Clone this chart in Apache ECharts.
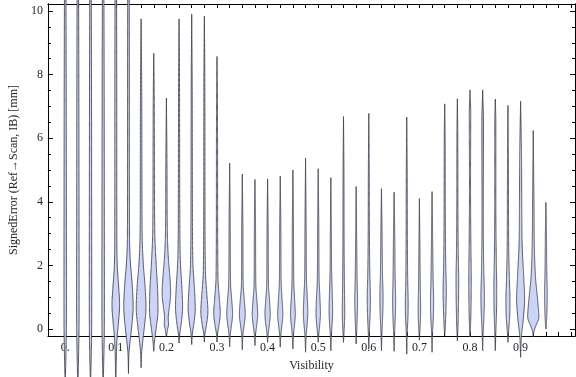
<!DOCTYPE html>
<html><head><meta charset="utf-8">
<script src="https://cdn.jsdelivr.net/npm/echarts@6/dist/echarts.min.js"></script>
<style>html,body{margin:0;padding:0;background:#fff}#c{width:576px;height:377px}</style>
</head><body><div id="c"></div>
<script>
// ---- data ----
const positions = [0,0.025,0.05,0.075,0.1,0.125,0.15,0.175,0.2,0.225,0.25,0.275,0.3,0.325,0.35,0.375,0.4,0.425,0.45,0.475,0.5,0.525,0.55,0.575,0.6,0.625,0.65,0.675,0.7,0.725,0.75,0.775,0.8,0.825,0.85,0.875,0.9,0.925,0.95];
const lows  = [-1.8,-1.8,-1.8,-1.8,-1.8,-1.4,-1.22,-0.7,-0.25,-0.44,-0.49,-0.41,-0.41,-0.56,-0.65,-0.52,-0.42,-0.57,-0.63,-0.73,-0.42,-0.68,-0.42,-0.47,-0.63,-0.68,-0.7,-0.79,-0.35,-0.73,-0.2,-0.37,-0.25,-0.68,-0.68,-0.42,-0.89,-0.25,0.0];
const highs = [16,16,16,16,16,16,9.75,8.67,7.26,9.75,9.9,9.84,8.57,5.22,4.87,4.7,4.72,4.81,5.0,5.37,5.04,4.76,6.68,4.48,6.78,4.41,4.3,6.66,4.1,4.32,7.08,7.24,7.52,7.52,7.23,7.03,7.16,6.24,3.98];
// density profile knots: [value, relative half-width]
const profiles = [
 [[-1.0,0.7],[0,1.3],[1,1.4],[4,1.3],[8,1.1],[11,0.8]],
 [[-1.0,0.7],[0,1.3],[1,1.4],[4,1.3],[8,1.1],[11,0.8]],
 [[-1.0,0.7],[0,1.3],[1,1.4],[4,1.3],[8,1.1],[11,0.8]],
 [[-1.0,0.7],[0,1.3],[1,1.4],[4,1.3],[8,1.1],[11,0.8]],
 [[-0.9,0.6],[-0.3,1.4],[0.2,3],[0.75,4.3],[1.3,3.3],[1.9,1.8],[2.6,1.2],[6,1.1],[10,0.9]],
 [[-0.75,0.6],[-0.4,1.8],[0.1,3.8],[0.7,5.3],[1.4,4.2],[2.1,2.2],[2.9,1.2],[6,1],[10,0.9]],
 [[-0.75,0.6],[-0.4,1.8],[0.1,3.8],[0.65,5.5],[1.3,4.6],[2,2.6],[2.9,1.2],[5,0.9],[8,0.6]],
 [[-0.35,1],[0,2.6],[0.6,4.8],[1.2,4.4],[2,2.8],[3,1.2],[5,0.8],[7.5,0.5]],
 [[0,1.4],[0.15,2.4],[0.35,2.1],[0.7,3.4],[1.1,4.8],[1.5,4.3],[2.2,2.3],[3,1.1],[5,0.7]],
 [[-0.15,0.8],[0.2,2.6],[0.7,4],[1.3,3.2],[2.2,1.4],[4,0.8],[8,0.5]],
 [[-0.15,0.8],[0.2,2.6],[0.65,4],[1.3,3],[2.1,1.3],[4,0.8],[8,0.5]],
 [[-0.12,0.8],[0.15,2.5],[0.55,4],[1.1,2.8],[1.8,1.2],[4,0.7],[8,0.5]],
 [[-0.12,0.8],[0.15,2.4],[0.5,3.7],[1,2.5],[1.6,1.1],[4,0.7],[7,0.5]],
 [[-0.15,0.8],[0.15,2.2],[0.45,3.3],[0.9,2.4],[1.4,1.1],[3,0.7]],
 [[-0.15,0.8],[0.15,2.2],[0.45,3.3],[0.9,2.3],[1.4,1.0],[3,0.7]],
 [[-0.15,0.8],[0.15,2.1],[0.45,3.1],[0.9,2.2],[1.4,1.0],[3,0.7]],
 [[-0.12,0.8],[0.15,2.1],[0.45,3.0],[0.9,2.2],[1.4,1.0],[3,0.7]],
 [[-0.15,0.8],[0.15,2],[0.45,2.9],[0.9,2.1],[1.5,1.0],[3,0.7]],
 [[-0.15,0.8],[0.15,1.9],[0.45,2.7],[0.9,2.0],[1.5,1.0],[3,0.7]],
 [[-0.15,0.8],[0.15,1.8],[0.5,2.5],[1.0,1.9],[1.6,1.0],[3,0.7]],
 [[-0.12,0.8],[0.15,1.8],[0.5,2.5],[1.0,1.9],[1.6,1.0],[3,0.7]],
 [[-0.15,0.7],[0.2,1.5],[0.55,2],[1.1,1.6],[1.8,0.9],[3,0.6]],
 [[-0.1,0.6],[0.5,1.4],[1.2,1.1],[2.5,0.7],[5,0.5]],
 [[-0.1,0.6],[0.5,1.3],[0.9,1.6],[1.5,1.1],[2.5,0.7]],
 [[-0.1,0.6],[0.5,1.5],[1.0,1.8],[1.7,1.2],[3,0.7],[5,0.5]],
 [[-0.1,0.6],[0.5,1.5],[1.0,1.8],[1.7,1.2],[3,0.7]],
 [[-0.1,0.6],[0.5,1.5],[0.9,1.7],[1.6,1.2],[3,0.7]],
 [[-0.1,0.6],[0.4,1.4],[0.8,1.6],[1.5,1.1],[3,0.7],[5,0.5]],
 [[-0.05,0.6],[0.3,1.2],[0.65,1.4],[1.3,1.0],[2.5,0.6]],
 [[-0.1,0.6],[0.4,1.5],[0.85,1.8],[1.6,1.2],[3,0.6]],
 [[0.1,0.7],[0.6,1.4],[1.25,1.8],[2,1.2],[3.5,0.7],[6,0.5]],
 [[0,0.6],[0.7,1.2],[1.5,1.5],[2.4,1.0],[4,0.6],[6,0.5]],
 [[0.1,0.6],[0.8,1.2],[1.6,1.4],[2.6,1.0],[4.5,0.6],[6.8,0.8]],
 [[-0.1,0.6],[0.5,1.6],[1.0,2.0],[1.8,1.3],[3.5,0.7],[6.5,0.9]],
 [[-0.1,0.6],[0.6,1.4],[1.3,1.6],[2.2,1.1],[4,0.6],[6.5,0.6]],
 [[-0.05,0.8],[0.4,2],[0.9,2.3],[1.6,1.6],[2.5,0.9],[4.5,0.6]],
 [[-0.2,1.0],[0.3,3],[0.95,4.5],[1.7,3.4],[2.6,1.8],[4,1.3],[5.5,1.0]],
 [[-0.1,0.6],[0.05,2.2],[0.38,6.3],[0.9,5],[1.6,2.6],[2.5,1.3],[4,0.8]],
 [[0.3,0.8],[0.8,1.4],[1.15,1.5],[1.8,1.0],[3,0.6]]
];
const xLabelValues = [0,0.1,0.2,0.3,0.4,0.5,0.6,0.7,0.8,0.9];
const xLabelTexts  = ['0.','0.1','0.2','0.3','0.4','0.5','0.6','0.7','0.8','0.9'];
const yLabelValues = [0,2,4,6,8,10];
const yMinorValues = [0.5,1,1.5,2.5,3,3.5,4.5,5,5.5,6.5,7,7.5,8.5,9,9.5];
const xTickValues = [];
for (let k = 0; k <= 40; k++) xTickValues.push(+(k*0.025).toFixed(3));

// ---- style / layout ----
const XMIN = -0.0342, XMAX = 1.0075, YMIN = -0.22, YMAX = 10.22;
const WUNIT = 0.00175; // x-axis units per relative width unit (~0.9px)
const FONT = 'Liberation Serif';
const TXT = '#262626';

function monoInterp(knots) {
  const n = knots.length, xs = knots.map(k=>k[0]), ys = knots.map(k=>k[1]);
  const d = [], m = new Array(n).fill(0);
  for (let i=0;i<n-1;i++) d.push((ys[i+1]-ys[i])/(xs[i+1]-xs[i]));
  for (let i=1;i<n-1;i++) m[i] = (d[i-1]*d[i] <= 0) ? 0 : (d[i-1]+d[i])/2;
  m[0]=d[0]; m[n-1]=d[n-2];
  for (let i=0;i<n-1;i++){
    if (d[i]===0){m[i]=0;m[i+1]=0;continue;}
    const a=m[i]/d[i], b=m[i+1]/d[i], s=a*a+b*b;
    if (s>9){const t=3/Math.sqrt(s); m[i]=t*a*d[i]; m[i+1]=t*b*d[i];}
  }
  return function(x){
    let i=0; while(i<n-2 && x>xs[i+1]) i++;
    const h=xs[i+1]-xs[i], t=(x-xs[i])/h, t2=t*t, t3=t2*t;
    return (2*t3-3*t2+1)*ys[i]+(t3-2*t2+t)*h*m[i]+(-2*t3+3*t2)*ys[i+1]+(t3-t2)*h*m[i+1];
  };
}

const data = positions.map((p,i)=>[p, lows[i], highs[i]]);

function renderItem(params, api) {
  const i = params.dataIndex;
  const x = api.value(0), lo = api.value(1), hi = api.value(2);
  const knots = [[lo,0]].concat(profiles[i]).concat([[hi,0]]);
  const f = monoInterp(knots);
  const unit = api.size([WUNIT,0])[0];
  const N = 260, right = [], left = [];
  for (let k=0;k<=N;k++){
    const v = lo + (hi-lo)*k/N;
    const w = Math.max(0, f(v))*unit;
    const c = api.coord([x, v]);
    right.push([c[0]+w, c[1]]);
    left.push([c[0]-w, c[1]]);
  }
  const pts = right.concat(left.reverse());
  return {type:'polygon', shape:{points:pts},
    style:{fill:'#cdd5f6', stroke:'rgba(55,55,65,0.9)', lineWidth:0.9}};
}

const axisLineStyle = {show:true, onZero:false, lineStyle:{color:'#000', width:1}};
const chart = echarts.init(document.getElementById('c'), null, {renderer:'canvas'});
chart.setOption({
  animation:false,
  grid:{left:36, right:1, top:4, bottom:40, containLabel:false},
  xAxis:[
    {type:'value', position:'bottom', min:XMIN, max:XMAX, axisLine:axisLineStyle,
     splitLine:{show:false},
     axisTick:{show:true, inside:true, length:4, customValues:xTickValues, lineStyle:{color:'#000'}},
     axisLabel:{show:true, customValues:xLabelValues, margin:6, fontFamily:FONT, fontSize:12, color:TXT,
       formatter:(v)=>{const j=xLabelValues.findIndex(u=>Math.abs(u-v)<1e-6); return j>=0?xLabelTexts[j]:'';}},
     name:'Visibility', nameLocation:'middle', nameGap:24,
     nameTextStyle:{fontFamily:FONT, fontSize:12, color:TXT}},
    {type:'value', position:'top', min:XMIN, max:XMAX, axisLine:axisLineStyle,
     splitLine:{show:false},
     axisTick:{show:true, inside:true, length:4, customValues:xTickValues, lineStyle:{color:'#000'}},
     axisLabel:{show:false}}
  ],
  yAxis:[
    {type:'value', position:'left', min:YMIN, max:YMAX, axisLine:axisLineStyle, splitLine:{show:false},
     axisTick:{show:true, inside:true, length:5, customValues:yLabelValues, lineStyle:{color:'#000'}},
     axisLabel:{show:true, customValues:yLabelValues, margin:5, fontFamily:FONT, fontSize:12, color:TXT},
     name:'SignedError (Ref\u2192Scan, IB) [mm]', nameLocation:'middle', nameGap:22,
     nameTextStyle:{fontFamily:FONT, fontSize:12, color:TXT}},
    {type:'value', position:'left', min:YMIN, max:YMAX, axisLine:axisLineStyle, splitLine:{show:false},
     axisTick:{show:true, inside:true, length:3, customValues:yMinorValues, lineStyle:{color:'#000'}},
     axisLabel:{show:false}},
    {type:'value', position:'right', min:YMIN, max:YMAX, axisLine:axisLineStyle, splitLine:{show:false},
     axisTick:{show:true, inside:true, length:5, customValues:yLabelValues, lineStyle:{color:'#000'}},
     axisLabel:{show:false}},
    {type:'value', position:'right', min:YMIN, max:YMAX, axisLine:axisLineStyle, splitLine:{show:false},
     axisTick:{show:true, inside:true, length:3, customValues:yMinorValues, lineStyle:{color:'#000'}},
     axisLabel:{show:false}}
  ],
  series:[{type:'custom', xAxisIndex:0, yAxisIndex:0, clip:false, renderItem:renderItem,
    encode:{x:0, y:[1,2]}, data:data, z:1}]
});
</script></body></html>
